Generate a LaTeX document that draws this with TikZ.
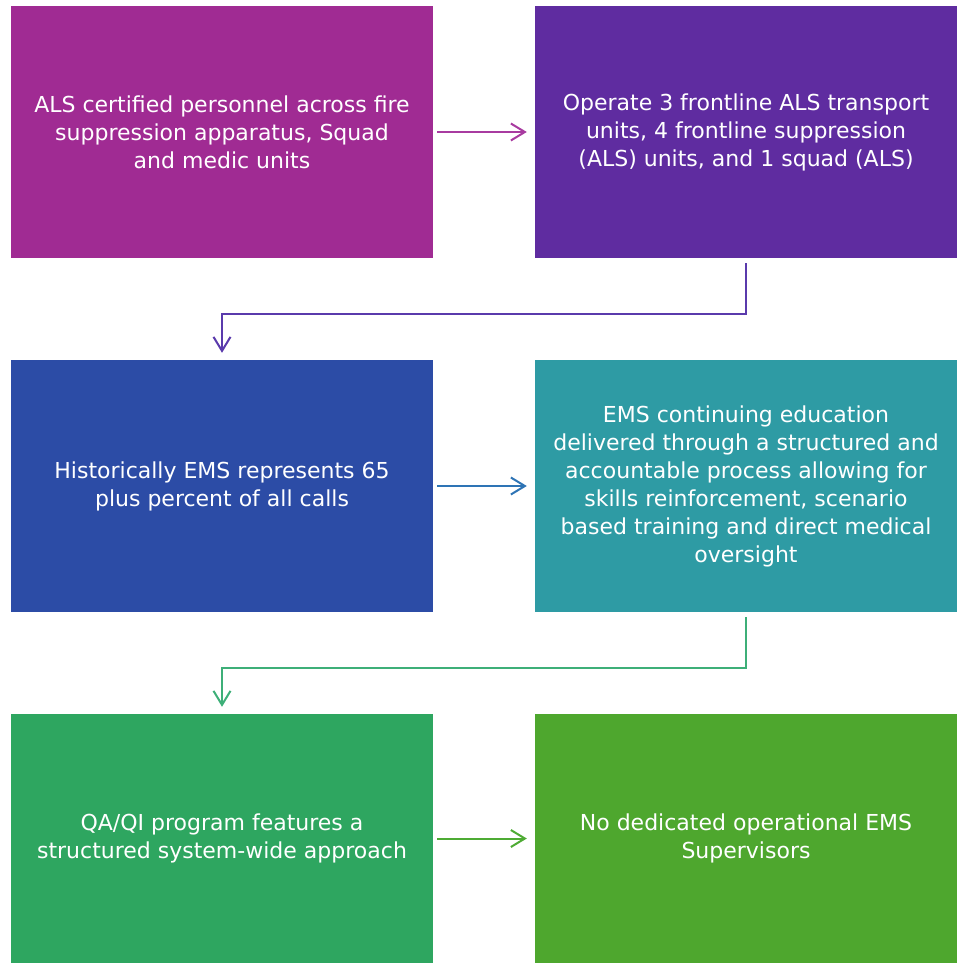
\documentclass[tikz,border=0pt]{standalone}
\usepackage{fontspec}
\setmainfont{DejaVu Sans}
\usetikzlibrary{arrows.meta,calc}
\definecolor{cA}{HTML}{A02B93}
\definecolor{cB}{HTML}{5F2CA0}
\definecolor{cC}{HTML}{2C4CA6}
\definecolor{cD}{HTML}{2E9BA4}
\definecolor{cE}{HTML}{2EA660}
\definecolor{cF}{HTML}{4EA72E}
\definecolor{aA}{HTML}{A83BA0}
\definecolor{aB}{HTML}{5A3AAC}
\definecolor{aC}{HTML}{2E74B5}
\definecolor{aD}{HTML}{3DAF78}
\definecolor{aE}{HTML}{4EAB34}
\tikzset{
  box/.style={minimum width=422pt, minimum height=252pt, inner sep=0pt, align=center, text=white, font=\fontsize{22}{28}\selectfont},
  conn/.style={line width=2pt, -{Straight Barb[length=14pt,width=17pt,line width=2pt]}}
}
\begin{document}
\begin{tikzpicture}[x=1pt,y=-1pt]
\useasboundingbox (0,0) rectangle (957,963);
\node[box, fill=cA] (b1) at (222,132) {ALS certified personnel across fire\\suppression apparatus, Squad\\and medic units};
\node[box, fill=cB] (b2) at (746,132) {Operate 3 frontline ALS transport\\units, 4 frontline suppression\\(ALS) units, and 1 squad (ALS)};
\node[box, fill=cC] (b3) at (222,486) {Historically EMS represents 65\\plus percent of all calls};
\node[box, fill=cD] (b4) at (746,486) {EMS continuing education\\delivered through a structured and\\accountable process allowing for\\skills reinforcement, scenario\\based training and direct medical\\oversight};
\node[box, fill=cE, minimum height=249pt] (b5) at (222,838.5) {QA/QI program features a\\structured system-wide approach};
\node[box, fill=cF, minimum height=249pt] (b6) at (746,838.5) {No dedicated operational EMS\\Supervisors};
\draw[conn, aA] ($(b1.east)+(4,0)$) -- ($(b2.west)+(-8,0)$);
\draw[conn, aB] ($(b2.south)+(0,5)$) -- ++(0,51) -| ($(b3.north)+(0,-7)$);
\draw[conn, aC] ($(b3.east)+(4,0)$) -- ($(b4.west)+(-8,0)$);
\draw[conn, aD] ($(b4.south)+(0,5)$) -- ++(0,51) -| ($(b5.north)+(0,-7)$);
\draw[conn, aE] ($(b5.east)+(4,0)$) -- ($(b6.west)+(-8,0)$);
\end{tikzpicture}
\end{document}
